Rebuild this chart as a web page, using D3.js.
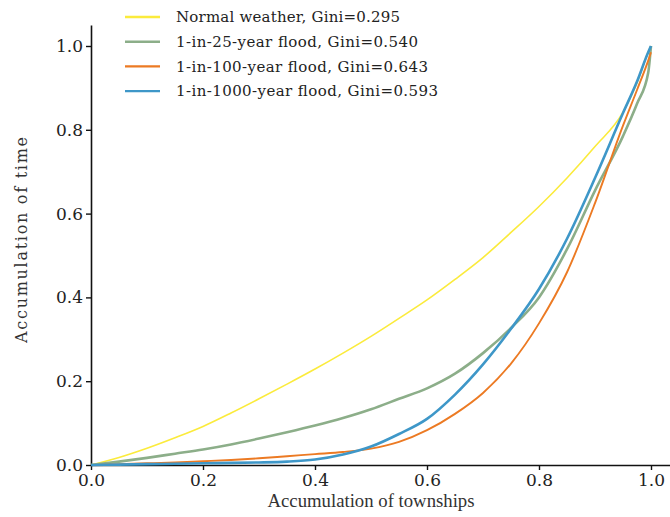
<!DOCTYPE html>
<html>
<head>
<meta charset="utf-8">
<script src="https://cdn.jsdelivr.net/npm/d3@7"></script>
<style>
  html, body { margin: 0; padding: 0; background: #fff; }
  svg { display: block; }
</style>
</head>
<body>
<svg id="chart" width="670" height="517"></svg>
<script>
// ---- data ----
const townshipShare = [0, 0.05, 0.1, 0.15, 0.2, 0.25, 0.3, 0.35, 0.4, 0.45, 0.5,
                       0.55, 0.6, 0.65, 0.7, 0.75, 0.8, 0.85, 0.9, 0.95, 0.975, 0.995, 1.0];
const normalWeather = [0, 0.018, 0.04, 0.065, 0.092, 0.124, 0.158, 0.193, 0.229, 0.267, 0.307,
                       0.35, 0.394, 0.443, 0.495, 0.555, 0.617, 0.685, 0.76, 0.842, 0.912, 0.985, 1.0];
const flood25 = [0, 0.008, 0.017, 0.027, 0.037, 0.049, 0.063, 0.078, 0.094, 0.112, 0.133,
                 0.158, 0.183, 0.218, 0.267, 0.327, 0.40, 0.515, 0.655, 0.785, 0.862, 0.936, 1.0];
const flood100 = [0, 0.002, 0.004, 0.006, 0.009, 0.012, 0.016, 0.021, 0.026, 0.031, 0.039,
                  0.055, 0.083, 0.122, 0.172, 0.242, 0.338, 0.46, 0.625, 0.81, 0.895, 0.965, 0.985];
const flood1000 = [0, 0.001, 0.002, 0.003, 0.004, 0.005, 0.006, 0.008, 0.013, 0.025, 0.044,
                   0.074, 0.11, 0.168, 0.24, 0.325, 0.42, 0.54, 0.685, 0.84, 0.915, 0.985, 1.0];
const seriesNames = ["Normal weather, Gini=0.295", "1-in-25-year flood, Gini=0.540",
                     "1-in-100-year flood, Gini=0.643", "1-in-1000-year flood, Gini=0.593"];
const seriesColors = ["#fbeb3c", "#8cae89", "#ec7a23", "#3e97c8"];
const seriesWidths = [1.6, 2.6, 1.9, 2.6];
const legendTextWidths = [224, 242, 252, 262];
const xTicks = [0, 0.2, 0.4, 0.6, 0.8, 1.0];
const yTicks = [0, 0.2, 0.4, 0.6, 0.8, 1.0];
const xTitle = "Accumulation of townships";
const yTitle = "Accumulation of time";

const seriesValues = [normalWeather, flood25, flood100, flood1000];

// ---- layout ----
const svg = d3.select("#chart");
const x0 = 91, unitX = 560, y0 = 465, unitY = 419;
const x = d3.scaleLinear().domain([0, 1.04]).range([x0, x0 + 1.04 * unitX]);
const y = d3.scaleLinear().domain([0, 1.05]).range([y0, y0 - 1.05 * unitY]);

const tickFont = "'DejaVu Serif', serif";

// axes
const xAxis = svg.append("g").attr("transform", `translate(0,${y0})`)
  .call(d3.axisBottom(x).tickValues(xTicks).tickFormat(d3.format(".1f")).tickSize(5).tickSizeOuter(0));
const yAxis = svg.append("g").attr("transform", `translate(${x0},0)`)
  .call(d3.axisLeft(y).tickValues(yTicks).tickFormat(d3.format(".1f")).tickSize(5).tickSizeOuter(0));
[xAxis, yAxis].forEach(g => {
  g.select(".domain").attr("stroke", "#111").attr("stroke-width", 1.6);
  g.selectAll(".tick line").attr("stroke", "#111").attr("stroke-width", 1.4);
  g.selectAll(".tick text").attr("fill", "#222").style("font-family", tickFont).style("font-size", "17px");
});
xAxis.selectAll(".tick text").attr("dy", "0.95em").attr("y", 5);
yAxis.selectAll(".tick text").attr("x", -8);

// lines
const line = d3.line()
  .x((d, i) => x(townshipShare[i]))
  .y(d => y(d))
  .curve(d3.curveMonotoneX);

seriesValues.forEach((vals, k) => {
  svg.append("path")
    .datum(vals)
    .attr("fill", "none")
    .attr("stroke", seriesColors[k])
    .attr("stroke-width", seriesWidths[k])
    .attr("stroke-linejoin", "round")
    .attr("d", line);
});

// legend
const legend = svg.append("g");
seriesNames.forEach((name, k) => {
  const ly = 17 + k * 24.7;
  legend.append("line")
    .attr("x1", 125).attr("x2", 160).attr("y1", ly).attr("y2", ly)
    .attr("stroke", seriesColors[k]).attr("stroke-width", 2.4);
  legend.append("text")
    .attr("x", 176).attr("y", ly).attr("dy", "0.35em")
    .style("font-family", tickFont).style("font-size", "15px")
    .attr("textLength", legendTextWidths[k]).attr("lengthAdjust", "spacing")
    .attr("fill", "#222")
    .text(name);
});

// axis titles
svg.append("text")
  .attr("x", 371).attr("y", 507)
  .attr("text-anchor", "middle")
  .style("font-family", "'Liberation Serif', 'Times New Roman', serif")
  .style("font-size", "19px").attr("fill", "#333")
  .attr("textLength", 207).attr("lengthAdjust", "spacingAndGlyphs")
  .text(xTitle);
svg.append("text")
  .attr("transform", "translate(27,240) rotate(-90)")
  .attr("text-anchor", "middle")
  .style("font-family", tickFont)
  .style("font-size", "16px").attr("fill", "#333")
  .attr("textLength", 206).attr("lengthAdjust", "spacing")
  .text(yTitle);
</script>
</body>
</html>
